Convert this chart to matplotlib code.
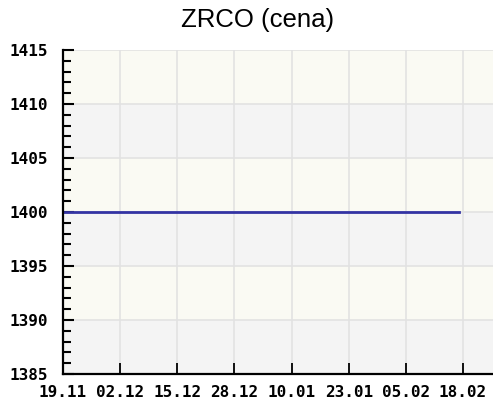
import matplotlib
matplotlib.use("Agg")
import matplotlib.pyplot as plt
from matplotlib.ticker import MultipleLocator
import datetime as dt

# price data (constant close price)
dates = ["2007-11-19", "2007-12-02", "2007-12-15", "2007-12-28",
         "2008-01-10", "2008-01-23", "2008-02-05", "2008-02-17"]
prices = [1400, 1400, 1400, 1400, 1400, 1400, 1400, 1400]
tick_dates = ["2007-11-19", "2007-12-02", "2007-12-15", "2007-12-28",
              "2008-01-10", "2008-01-23", "2008-02-05", "2008-02-18"]
tick_labels = ["19.11", "02.12", "15.12", "28.12", "10.01", "23.01", "05.02", "18.02"]

x = [dt.datetime.strptime(d, "%Y-%m-%d") for d in dates]
xt = [dt.datetime.strptime(d, "%Y-%m-%d") for d in tick_dates]

fig = plt.figure(figsize=(4.93, 4.03), dpi=100)
ax = fig.add_axes([63 / 493, 29 / 403, 430 / 493, 324 / 403])

ymin, ymax = 1385, 1415
# alternating bands
for i, lo in enumerate(range(ymin, ymax, 5)):
    ax.axhspan(lo, lo + 5, color="#f4f4f4" if i % 2 == 0 else "#fafaf3", lw=0, zorder=0)

ax.set_ylim(ymin, ymax)
ax.set_xlim(xt[0], dt.datetime(2008, 2, 24, 20))

ax.plot(x, prices, color="#3333a3", lw=2.0, zorder=3)

ax.set_xticks(xt)
ax.set_xticklabels(tick_labels)
ax.yaxis.set_major_locator(MultipleLocator(5))
ax.yaxis.set_minor_locator(MultipleLocator(1))
ax.grid(True, which="major", color="#e2e2e2", lw=1.2, zorder=1)

for s in ["top", "right"]:
    ax.spines[s].set_visible(False)
for s in ["left", "bottom"]:
    ax.spines[s].set_linewidth(1.6)
    ax.spines[s].set_zorder(4)

ax.tick_params(axis="y", which="major", direction="in", length=8, width=1.5, pad=11)
ax.tick_params(axis="y", which="minor", direction="in", length=5.5, width=1.5)
ax.tick_params(axis="x", which="major", direction="in", length=8, width=1.3, pad=8)

for lab in ax.get_xticklabels() + ax.get_yticklabels():
    lab.set_family("DejaVu Sans Mono")
    lab.set_fontweight("bold")
    lab.set_fontsize(11.5)

fig.text(258 / 493, 1 - 20 / 403, "ZRCO (cena)", ha="center", va="center",
         family="Liberation Sans", fontsize=18.5)

fig.savefig("out.png", dpi=100)
